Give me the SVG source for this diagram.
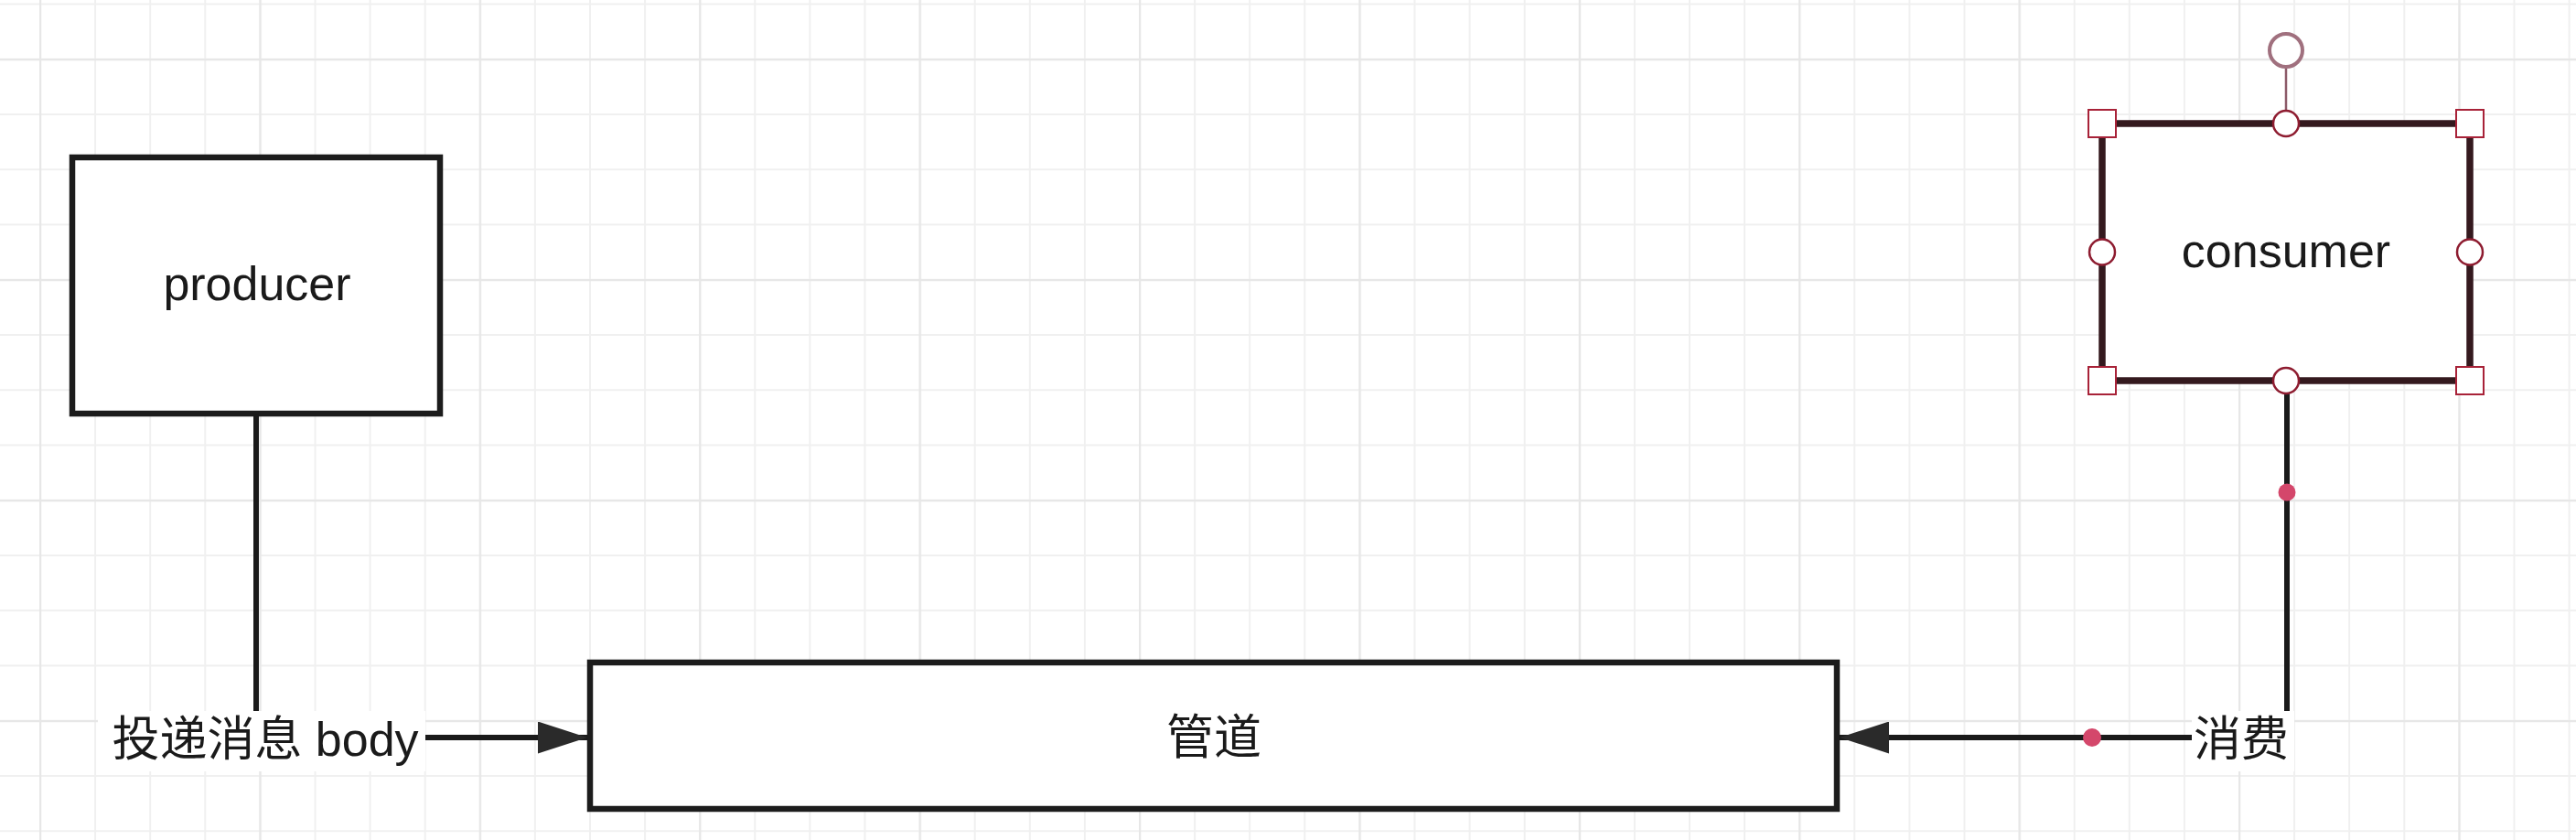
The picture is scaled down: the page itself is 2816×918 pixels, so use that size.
<svg xmlns="http://www.w3.org/2000/svg" width="2816" height="918" viewBox="0 0 2816 918">
<style>
.box{fill:#ffffff;stroke:#1c1c1c;stroke-width:6.5}
.sel{fill:#ffffff;stroke:#34191e;stroke-width:7.5}
.txt{font-family:"Liberation Sans","Noto Sans CJK SC",sans-serif;font-size:52px;fill:#1a1a1a;text-anchor:middle}
.edge{fill:none;stroke:#1a1a1a;stroke-width:6}
.lblbg{fill:#ffffff}
.hsq{fill:#ffffff;stroke:#a82238;stroke-width:2}
.hci{fill:#ffffff;stroke:#8e1c30;stroke-width:2.5}
.dot{fill:#d4476b}
</style>
<defs>
<pattern id="minor" x="43" y="3.5" width="60.1" height="60.25" patternUnits="userSpaceOnUse">
<path d="M1 0V60.25M0 1H60.1" stroke="#f0f0f0" stroke-width="2" fill="none"/>
</pattern>
<pattern id="major" x="43" y="64" width="240.4" height="241" patternUnits="userSpaceOnUse">
<path d="M1 0V241M0 1H240.4" stroke="#e7e7e7" stroke-width="2.5" fill="none"/>
</pattern>
<marker id="arrow" viewBox="0 0 54 35" refX="54" refY="17.5" markerWidth="54" markerHeight="35" markerUnits="userSpaceOnUse" orient="auto">
<path d="M0 0L54 17.5L0 35Z" fill="#2a2a2a"/>
</marker>
</defs>
<rect width="2816" height="918" fill="#ffffff"/>
<rect width="2816" height="918" fill="url(#minor)"/>
<rect width="2816" height="918" fill="url(#major)"/>

<g id="producer">
<rect class="box" x="79" y="172" width="402" height="280"/>
<text class="txt" x="281" y="328">producer</text>
</g>

<g id="pipe">
<rect class="box" x="645" y="724" width="1363" height="160"/>
<text class="txt" x="1327" y="824">管道</text>
</g>

<g id="consumer">
<rect class="sel" x="2298" y="135" width="402" height="281"/>
<text class="txt" x="2499" y="292">consumer</text>
</g>

<g id="connectors">
<path class="edge" d="M280 452V806H642" marker-end="url(#arrow)"/>
<rect class="lblbg" x="107" y="777" width="358" height="66"/>
<text class="txt" x="290" y="826">投递消息 body</text>
<path class="edge" d="M2500 416V806H2011" marker-end="url(#arrow)"/>
<rect class="lblbg" x="2396" y="777" width="112" height="66"/>
<text class="txt" x="2450" y="826">消费</text>
<circle class="dot" cx="2500" cy="538" r="9.5"/>
<circle class="dot" cx="2287" cy="806" r="10"/>
</g>

<g id="selection-handles">
<line x1="2499" y1="73" x2="2499" y2="121" stroke="#8c5a68" stroke-width="2.5"/>
<circle cx="2499" cy="55" r="18" fill="#ffffff" stroke="#a0707e" stroke-width="4"/>
<rect class="hsq" x="2283" y="120" width="30" height="30"/>
<rect class="hsq" x="2685" y="120" width="30" height="30"/>
<rect class="hsq" x="2283" y="401" width="30" height="30"/>
<rect class="hsq" x="2685" y="401" width="30" height="30"/>
<circle class="hci" cx="2499" cy="135" r="14"/>
<circle class="hci" cx="2499" cy="416" r="14"/>
<circle class="hci" cx="2298" cy="275.5" r="14"/>
<circle class="hci" cx="2700" cy="275.5" r="14"/>
</g>
</svg>
